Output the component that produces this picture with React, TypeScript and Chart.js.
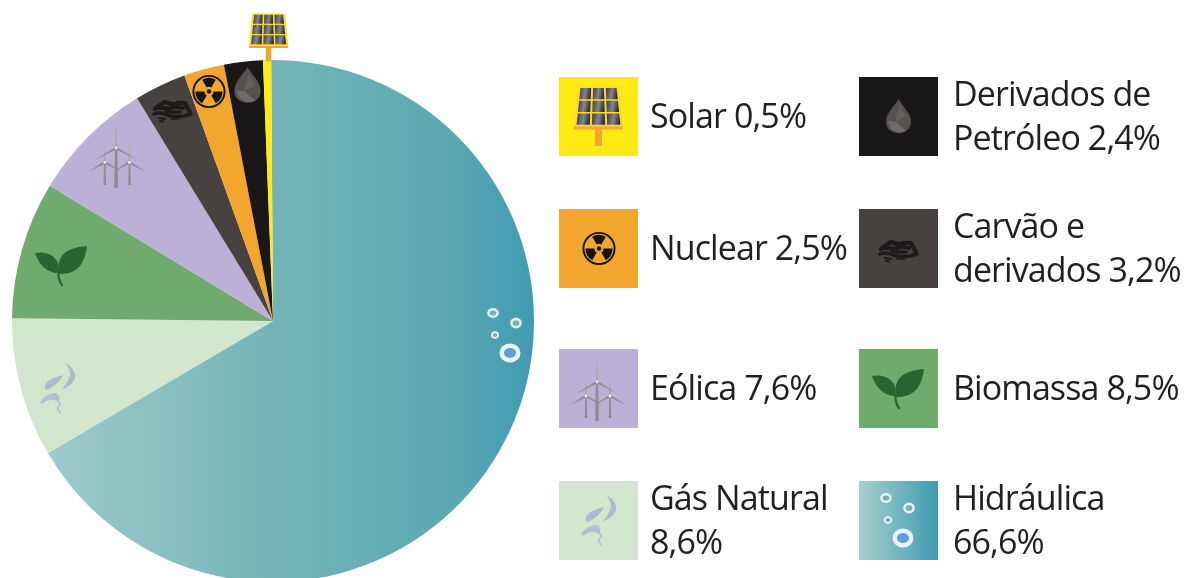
import React, { useEffect, useRef } from "react";
import { Chart, registerables } from "chart.js";

Chart.register(...registerables);

// Brazilian electricity mix, clockwise from twelve o'clock.
const sources = ["Hidráulica", "Gás Natural", "Biomassa", "Eólica", "Carvão e derivados", "Nuclear", "Derivados de Petróleo", "Solar"];
const shares = [66.6, 8.6, 8.5, 7.6, 3.2, 2.5, 2.4, 0.5];
const sliceColors = ["#62abb1", "#d2e5cd", "#6fab6e", "#bcb0d6", "#474240", "#f2a62d", "#1a1718", "#ffeb13"];
const waterStops = ["#a6cfce", "#74b4b8", "#5aa8b1", "#3f9bb2"];

const legendLeft = [7, 5, 3, 1];
const legendRight = [6, 4, 2, 0];
const legendBreaks: Record<string, string> = {
  "Derivados de Petróleo": "Derivados de",
  "Carvão e derivados": "Carvão e",
  "Gás Natural": "Gás Natural",
  "Hidráulica": "Hidráulica",
};

const TEXT = "#231f20";
const rowTops = [77, 209, 349, 481];

type IconKind = "solar" | "drop" | "nuclear" | "coal" | "wind" | "leaf" | "gas" | "bubbles";
const iconOf: IconKind[] = ["bubbles", "gas", "leaf", "wind", "coal", "nuclear", "drop", "solar"];
const iconOnPie: [number, number, number][] = [
  [466, 296, 1],
  [18, 349, 1],
  [22, 226, 1],
  [77, 114, 1.03],
  [133, 69, 1],
  [169, 52, 1],
  [206, 44, 1.05],
  [237, 6, 0.8],
];

function Turbine({ x, hub, base, len, w }: { x: number; hub: number; base: number; len: number; w: number }) {
  const c = "#8f8b94";
  const light = "#a9a5a8";
  return (
    <g>
      <path d={`M${x - 1.2} ${hub} L${x} ${hub - len} L${x + 1.2} ${hub} Z`} fill={light} />
      <path d={`M${x - 0.7} ${hub - 1} L${x - len * 0.87} ${hub + len * 0.5} L${x + 0.7} ${hub + 1} Z`} fill={c} />
      <path d={`M${x + 0.7} ${hub - 1} L${x + len * 0.87} ${hub + len * 0.5} L${x - 0.7} ${hub + 1} Z`} fill={c} />
      <path d={`M${x - w} ${base} L${x - w * 0.6} ${hub} L${x + w * 0.6} ${hub} L${x + w} ${base} Z`} fill={c} />
      <circle cx={x} cy={hub} r={1.4} fill="#eeeeee" />
    </g>
  );
}

function IconShape({ kind, uid }: { kind: IconKind; uid: string }) {
  if (kind === "solar") {
    const cols = [0, 1, 2];
    const xAt = (t: number, row: number) => {
      const halfWidth = 19 + (row / 3) * 4;
      return 39.5 - halfWidth + t * (2 * halfWidth) / 3;
    };
    return (
      <g>
        <defs>
          <linearGradient id={`cell${uid}`} x1="0" y1="0" x2="1" y2="0.15">
            <stop offset="0" stopColor="#3a3a42" />
            <stop offset="0.55" stopColor="#85858e" />
            <stop offset="1" stopColor="#2e2e35" />
          </linearGradient>
        </defs>
        <rect x="36" y="50" width="7" height="19" fill="#f2a62d" />
        <path d={`M${xAt(0, 0) - 1.5} 9.5 L${xAt(3, 0) + 1.5} 9.5 L${xAt(3, 3) + 1.5} 49.5 L${xAt(0, 3) - 1.5} 49.5 Z`} fill="#ffd92b" />
        {cols.map((r) =>
          cols.map((c) => (
            <path
              key={`${r}-${c}`}
              d={`M${xAt(c, r) + 1} ${11 + r * 12.8} L${xAt(c + 1, r) - 1} ${11 + r * 12.8} L${xAt(c + 1, r + 1) - 1} ${11 + (r + 1) * 12.8 - 1.6} L${xAt(c, r + 1) + 1} ${11 + (r + 1) * 12.8 - 1.6} Z`}
              fill={`url(#cell${uid})`}
            />
          ))
        )}
        <rect x="15" y="49.5" width="49" height="3" fill="#f2a62d" />
      </g>
    );
  }
  if (kind === "drop") {
    return (
      <g>
        <path d="M39.5 22 C44 30 52 36 52 45 C52 52 46 56 39.5 56 C33 56 27 52 27 45 C27 36 35 30 39.5 22 Z" fill="#55524f" />
        <path d="M41 28 L47 39 L36 45 Z" fill="#625f5d" />
        <path d="M29 44 L37 45 L47 54 C42 57 31 56 29 44 Z" fill="#6f6c69" />
      </g>
    );
  }
  if (kind === "nuclear") {
    const blade = (deg: number) => {
      const r1 = 4.6;
      const r2 = 13.6;
      const pt = (r: number, a: number) => {
        const t = ((a - 90) * Math.PI) / 180;
        return `${40 + r * Math.cos(t)} ${39.5 + r * Math.sin(t)}`;
      };
      return `M${pt(r1, deg - 30)} L${pt(r2, deg - 30)} A${r2} ${r2} 0 0 1 ${pt(r2, deg + 30)} L${pt(r1, deg + 30)} A${r1} ${r1} 0 0 0 ${pt(r1, deg - 30)} Z`;
    };
    return (
      <g fill="#17130f">
        <circle cx="40" cy="39.5" r="15.6" fill="none" stroke="#17130f" strokeWidth="1.9" />
        {[0, 120, 240].map((d) => (
          <path key={d} d={blade(d)} />
        ))}
        <circle cx="40" cy="39.5" r="2.2" />
      </g>
    );
  }
  if (kind === "coal") {
    return (
      <g fill="none" stroke="#1f1b1b" strokeLinecap="round" strokeLinejoin="round">
        <path d="M22 40 C25 36 28 36 32 33 C35 33 37 36 42 35 C46 33 49 34 52 34 C54 37 55 40 57 43" strokeWidth="4.2" />
        <path d="M26 39 C30 38 34 41 38 39 C42 37 45 38 50 39" strokeWidth="4" />
        <path d="M21 45 C26 43 30 44 34 46 C40 49 46 47 51 47 L58 45" strokeWidth="3.4" />
        <path d="M33 42 C38 44 42 43 47 43" strokeWidth="3.2" />
        <path d="M26 49 L32 50" strokeWidth="2.2" />
        <path d="M27 52 L30 52.5" strokeWidth="1.8" />
        <path d="M38 50 L46 50" strokeWidth="1.6" />
      </g>
    );
  }
  if (kind === "wind") {
    return (
      <g>
        <Turbine x={27} hub={47} base={69} len={18} w={1.3} />
        <Turbine x={51} hub={47} base={69} len={18} w={1.3} />
        <Turbine x={38} hub={33} base={72} len={24} w={1.9} />
      </g>
    );
  }
  if (kind === "leaf") {
    return (
      <g fill="#2a6432">
        <path d="M13 27 C22 25 32 28 36 37 C37 41 37 45 36 47 C25 47 17 39 13 27 Z" />
        <path d="M65 20 C54 21 43 23 38 33 C36 39 36 44 37 48 C50 48 62 44 65 20 Z" />
        <path d="M36.5 45 C36 50 37 55 40 59" fill="none" stroke="#2a6432" strokeWidth="2.2" strokeLinecap="round" />
      </g>
    );
  }
  if (kind === "gas") {
    return (
      <g fill="#a9bccc" strokeLinecap="round">
        <defs>
          <filter id={`smoke${uid}`} x="-20%" y="-20%" width="140%" height="140%">
            <feGaussianBlur stdDeviation="0.7" />
          </filter>
        </defs>
        <g filter={`url(#smoke${uid})`}>
          <path d="M47 14 C54 17 58 23 57 29 C55 35 49 38 44 41 C47 36 52 30 52 25 C52 21 50 17 47 14 Z" />
          <path d="M27 36 C30 30 38 28 45 26 C42 32 36 38 29 41 C27 40 26 38 27 36 Z" />
          <path d="M22 53 C26 47 33 44 38 44 C44 48 41 53 38 52 C34 50 30 50 24 55 Z" opacity="0.85" />
          <path d="M38 50 C42 54 44 55 40 58 C38 60 42 62 42 64" fill="none" stroke="#a9bccc" strokeWidth="1.4" />
        </g>
      </g>
    );
  }
  // Air bubbles, blue at the core and white at the rim.
  const bubbles: [number, number, number, number, string][] = [
    [27, 17, 5.8, 5, "#6fb0bd"],
    [50, 27, 5.8, 5.4, "#6fb0bd"],
    [29, 39, 4, 3.8, "#6fb0bd"],
    [44, 57, 10.5, 9.6, "#5d9fd6"],
  ];
  return (
    <g>
      {bubbles.map(([cx, cy, rx, ry, core]) => (
        <g key={cx}>
          <ellipse cx={cx} cy={cy} rx={rx} ry={ry} fill="#e9f4f6" />
          <ellipse cx={cx} cy={cy} rx={rx * 0.58} ry={ry * 0.52} fill={core} />
        </g>
      ))}
    </g>
  );
}

function Icon({ kind, x, y, scale, uid }: { kind: IconKind; x: number; y: number; scale: number; uid: string }) {
  const size = 80 * scale;
  return (
    <svg
      viewBox="0 0 80 80"
      width={size}
      height={size}
      style={{ position: "absolute", left: x, top: y, overflow: "visible", pointerEvents: "none" }}
    >
      <IconShape kind={kind} uid={uid} />
    </svg>
  );
}

function LegendItem({ index, left, top, gap }: { index: number; left: number; top: number; gap: number }) {
  const name = sources[index];
  const value = `${shares[index].toFixed(1).replace(".", ",")}%`;
  const head = legendBreaks[name];
  const lines = head ? [head, `${name.slice(head.length).trim()} ${value}`.trim()] : [`${name} ${value}`];
  const swatch =
    index === 0
      ? `linear-gradient(90deg, ${waterStops[0]}, ${waterStops[3]})`
      : sliceColors[index];
  return (
    <>
      <div style={{ position: "absolute", left, top, width: 79, height: 79, background: swatch }} />
      <Icon kind={iconOf[index]} x={left} y={top} scale={1} uid={`k${index}`} />
      <div
        style={{
          position: "absolute",
          left: left + gap,
          top: top + (lines.length === 1 ? 16 : -6),
          font: "34px/44px 'Open Sans', sans-serif",
          letterSpacing: "-0.9px",
          color: TEXT,
          whiteSpace: "nowrap",
        }}
      >
        {lines.map((l) => (
          <div key={l}>{l}</div>
        ))}
      </div>
    </>
  );
}

export default function App() {
  const ref = useRef<HTMLCanvasElement>(null);

  useEffect(() => {
    document.body.style.margin = "0";
    const chart = new Chart(ref.current!, {
      type: "pie",
      data: {
        labels: sources,
        datasets: [
          {
            data: shares,
            borderWidth: 0,
            backgroundColor: (ctx: any) => {
              if (ctx.dataIndex !== 0 || !ctx.chart.chartArea) return sliceColors[ctx.dataIndex];
              const { left, right } = ctx.chart.chartArea;
              const g = ctx.chart.ctx.createLinearGradient(left, 0, right, 0);
              g.addColorStop(0, waterStops[0]);
              g.addColorStop(0.5, waterStops[1]);
              g.addColorStop(0.85, waterStops[2]);
              g.addColorStop(1, waterStops[3]);
              return g;
            },
          },
        ],
      },
      options: {
        animation: false,
        responsive: false,
        rotation: -0.4,
        layout: { padding: { left: 12, right: 657, top: 60, bottom: 18 } },
        plugins: { legend: { display: false }, tooltip: { enabled: false } },
      },
    });
    return () => chart.destroy();
  }, []);

  return (
    <div style={{ position: "relative", width: 1191, height: 578, overflow: "hidden", background: "#fff" }}>
      <canvas ref={ref} width={1191} height={600} style={{ position: "absolute", left: 0, top: 0 }} />
      {iconOf.map((kind, i) => (
        <Icon key={kind} kind={kind} x={iconOnPie[i][0]} y={iconOnPie[i][1]} scale={iconOnPie[i][2]} uid={`p${i}`} />
      ))}
      {legendLeft.map((idx, row) => (
        <LegendItem key={idx} index={idx} left={559} top={rowTops[row]} gap={91} />
      ))}
      {legendRight.map((idx, row) => (
        <LegendItem key={idx} index={idx} left={859} top={rowTops[row]} gap={94} />
      ))}
    </div>
  );
}
